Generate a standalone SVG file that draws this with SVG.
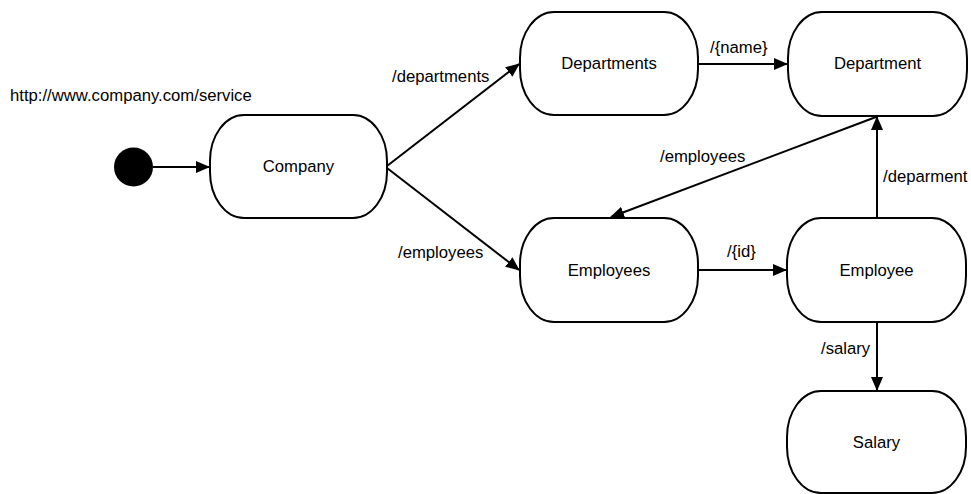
<svg xmlns="http://www.w3.org/2000/svg" width="971" height="494" viewBox="0 0 971 494">
<defs>
<style>
.node rect{fill:#fff;stroke:#000;stroke-width:2}
.node text,.lbl{font-family:"Liberation Sans",Arial,sans-serif;font-size:16.7px;fill:#000}
.node text{text-anchor:middle}
.edge{stroke:#000;stroke-width:2;fill:none;marker-end:url(#ah)}
</style>
<marker id="ah" markerUnits="userSpaceOnUse" markerWidth="14" markerHeight="12" viewBox="0 0 14 12" refX="13" refY="6" orient="auto">
<path d="M0,0 L14,6 L0,12 Z" fill="#000"/>
</marker>
</defs>
<rect width="971" height="494" fill="#fff"/>
<text class="lbl" x="10" y="101">http://www.company.com/service</text>
<g id="start"><circle cx="133.5" cy="167" r="19.5" fill="#000"/></g>
<g id="company" class="node"><rect x="210" y="115" width="177" height="103" rx="34" ry="46"/><text x="298.5" y="172">Company</text></g>
<g id="departments" class="node"><rect x="520" y="12" width="178" height="103" rx="34" ry="46"/><text x="609" y="69">Departments</text></g>
<g id="department" class="node"><rect x="788" y="12" width="179" height="104" rx="34" ry="46"/><text x="877.5" y="69">Department</text></g>
<g id="employees" class="node"><rect x="520" y="218" width="178" height="104" rx="34" ry="46"/><text x="609" y="276">Employees</text></g>
<g id="employee" class="node"><rect x="787" y="218" width="179" height="104" rx="34" ry="46"/><text x="876.5" y="276">Employee</text></g>
<g id="salary" class="node"><rect x="787" y="391" width="179" height="102" rx="34" ry="46"/><text x="876.5" y="448">Salary</text></g>
<g id="connectors">
<line class="edge" x1="153" y1="167" x2="209" y2="167"/>
<line class="edge" x1="387" y1="166" x2="519" y2="64"/>
<line class="edge" x1="387" y1="168" x2="519" y2="270"/>
<line class="edge" x1="698" y1="64" x2="787" y2="64"/>
<line class="edge" x1="877" y1="218" x2="877" y2="117"/>
<line class="edge" x1="876" y1="117" x2="611" y2="217"/>
<line class="edge" x1="698" y1="270" x2="786" y2="270"/>
<line class="edge" x1="877" y1="322" x2="877" y2="390"/>
</g>
<g id="labels">
<text class="lbl" x="392" y="82">/departments</text>
<text class="lbl" x="710" y="53">/{name}</text>
<text class="lbl" x="660" y="162">/employees</text>
<text class="lbl" x="883" y="182">/deparment</text>
<text class="lbl" x="398" y="258">/employees</text>
<text class="lbl" x="727" y="257">/{id}</text>
<text class="lbl" x="821" y="354">/salary</text>
</g>
</svg>
